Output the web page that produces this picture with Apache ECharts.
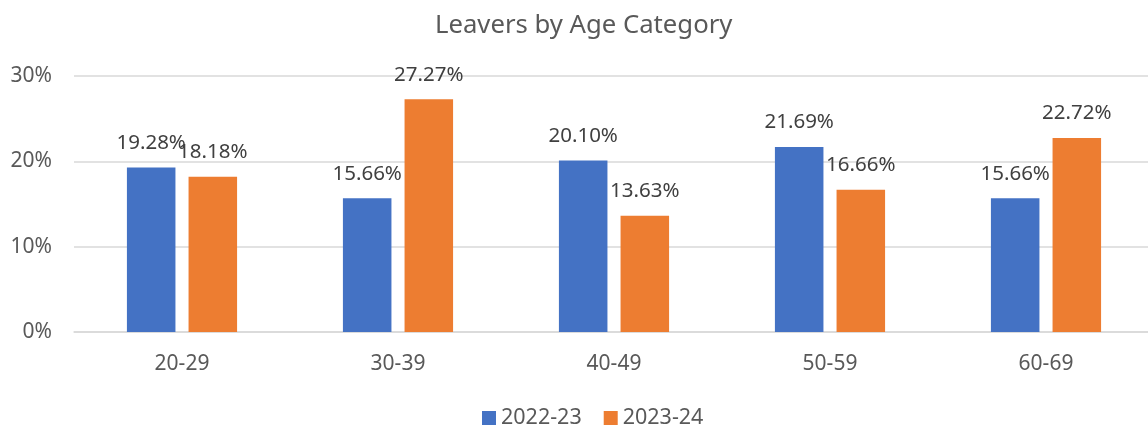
<!DOCTYPE html>
<html>
<head>
<meta charset="utf-8">
<script src="https://cdn.jsdelivr.net/npm/echarts@6/dist/echarts.min.js"></script>
<style>html,body{margin:0;padding:0;background:#fff}#c{width:1148px;height:426px}</style>
</head>
<body>
<div id="c"></div>
<script>
const categories = ['20-29', '30-39', '40-49', '50-59', '60-69'];
const seriesNames = ['2022-23', '2023-24'];
const values2022 = [19.28, 15.66, 20.10, 21.69, 15.66];
const values2023 = [18.18, 27.27, 13.63, 16.66, 22.72];
const colors = ['#4472C4', '#ED7D31'];
const FONT = '"Noto Sans", "Open Sans", sans-serif';

const chart = echarts.init(document.getElementById('c'));
const labelCfg = {
  show: true, position: 'top', distance: 14,
  color: '#404040', fontSize: 20.5, fontFamily: FONT,
  formatter: p => p.value.toFixed(2) + '%'
};
chart.setOption({
  animation: false,
  textStyle: { fontFamily: FONT },
  title: {
    text: 'Leavers by Age Category', left: 430, top: 8,
    textStyle: { fontSize: 25.7, fontWeight: 'normal', color: '#595959', fontFamily: FONT }
  },
  legend: {
    data: seriesNames, top: 402, left: 477,
    itemWidth: 14, itemHeight: 14, itemGap: 22, icon: 'rect',
    textStyle: { fontSize: 21.5, color: '#595959', fontFamily: FONT }
  },
  grid: { left: 74, width: 1080, top: 76, height: 256, containLabel: false, outerBoundsMode: 'none' },
  xAxis: {
    type: 'category', data: categories,
    axisLine: { lineStyle: { color: '#D9D9D9', width: 1.5 } },
    axisTick: { show: false },
    axisLabel: { color: '#595959', fontSize: 21, margin: 22, fontFamily: FONT }
  },
  yAxis: {
    type: 'value', min: 0, max: 30, interval: 10,
    axisLine: { show: false }, axisTick: { show: false },
    splitLine: { lineStyle: { color: '#D9D9D9', width: 1.5 } },
    axisLabel: { color: '#595959', fontSize: 21, margin: 22, fontFamily: FONT, formatter: v => v + '%' }
  },
  series: [
    { name: seriesNames[0], type: 'bar', data: values2022, itemStyle: { color: colors[0] },
      barGap: '27%', barCategoryGap: '49%', label: labelCfg },
    { name: seriesNames[1], type: 'bar', data: values2023, itemStyle: { color: colors[1] },
      barGap: '27%', barCategoryGap: '49%', label: labelCfg }
  ]
});
</script>
</body>
</html>
